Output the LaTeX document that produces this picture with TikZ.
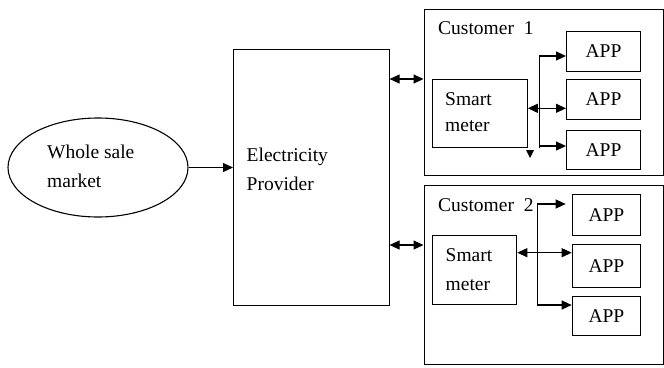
\documentclass[tikz,border=0pt]{standalone}
\usepackage{fontspec}
\setmainfont{Liberation Serif}
\usetikzlibrary{arrows.meta,shapes.geometric}
\begin{document}
\begin{tikzpicture}[x=1pt,y=-1pt,
  every node/.style={font=\fontsize{19.5}{23}\selectfont},
  box/.style={draw, line width=1.1pt, inner sep=0pt, anchor=north west},
  lbl/.style={inner sep=0pt, anchor=base west},
  arr/.style={line width=1.1pt, -{Triangle[length=10pt,width=9pt]}},
  darr/.style={line width=1.1pt, {Triangle[length=10pt,width=9pt]}-{Triangle[length=10pt,width=9pt]}},
  bus/.style={line width=1.1pt}]
\useasboundingbox (0,0) rectangle (664,367);
% wholesale market
\node[draw, line width=1.1pt, ellipse, minimum width=180pt, minimum height=99pt, inner sep=0pt] (wsm) at (98,167.5) {};
\node[lbl] (wsmt1) at (47,158) {Whole sale};
\node[lbl] (wsmt2) at (47,187) {market};
% provider
\node[box, minimum width=155.5pt, minimum height=256pt] (prov) at (233,49) {};
\node[lbl] (provt1) at (246.5,161.5) {Electricity};
\node[lbl] (provt2) at (246.5,190) {Provider};
% customer boxes
\node[box, minimum width=239.5pt, minimum height=166pt] (c1) at (423.5,9) {};
\node[lbl] (c1t) at (438,34) {Customer\ \ 1};
\node[box, minimum width=239.5pt, minimum height=179pt] (c2) at (423.5,185) {};
\node[lbl] (c2t) at (438,211.5) {Customer\ \ 2};
% smart meters
\node[box, minimum width=95pt, minimum height=67.5pt] (sm1) at (431.7,79) {};
\node[lbl] (sm1t1) at (445,105) {Smart};
\node[lbl] (sm1t2) at (445,131.5) {meter};
\node[box, minimum width=84.5pt, minimum height=69pt] (sm2) at (431.7,235) {};
\node[lbl] (sm2t1) at (445.5,261.5) {Smart};
\node[lbl] (sm2t2) at (445.5,290) {meter};
% apps customer 1
\node[box, minimum width=74pt, minimum height=40pt] (a11) at (566,30.7) {};
\node (a11t) at (a11.center) {APP};
\node[box, minimum width=74pt, minimum height=39.5pt] (a12) at (566,79) {};
\node (a12t) at (a12.center) {APP};
\node[box, minimum width=74pt, minimum height=38.5pt] (a13) at (566,130) {};
\node (a13t) at (a13.center) {APP};
% apps customer 2
\node[box, minimum width=68.3pt, minimum height=41pt] (a21) at (571.7,194) {};
\node (a21t) at (a21.center) {APP};
\node[box, minimum width=68.3pt, minimum height=42.5pt] (a22) at (571.7,244.3) {};
\node (a22t) at (a22.center) {APP};
\node[box, minimum width=68.3pt, minimum height=39pt] (a23) at (571.7,296) {};
\node (a23t) at (a23.center) {APP};
% connectors
\draw[arr] (wsm.east) -- (wsm.east -| prov.west);
\coordinate (l1) at (0,79);
\coordinate (l2) at (0,245);
\draw[darr] (prov.east |- l1) -- (c1.west |- l1);
\draw[darr] (prov.east |- l2) -- (c2.west |- l2);
% customer 1 bus
\coordinate (b1t) at (539.3,56);
\coordinate (b1b) at (539.3,148);
\coordinate (b1m) at (539.3,108.3);
\coordinate (b1l) at (539.3,146);
\draw[bus] (b1t) -- (b1b);
\draw[arr] (b1t) -- (b1t -| a11.west);
\draw[darr] (sm1.east |- b1m) -- (b1m -| a12.west);
\draw[arr] (b1l) -- (b1l -| a13.west);
\fill (526,150) -- (534,150) -- (530,158) -- cycle;
% customer 2 bus
\coordinate (b2t) at (537.3,204);
\coordinate (b2b) at (537.3,305);
\coordinate (b2m) at (537.3,252.7);
\draw[bus] (b2t) -- (b2b);
\draw[arr] (b2t) -- ([xshift=-6pt]b2t -| a21.west);
\draw[darr] (sm2.east |- b2m) -- (b2m -| a22.west);
\draw[arr] (b2b) -- (b2b -| a23.west);
\end{tikzpicture}
\end{document}
